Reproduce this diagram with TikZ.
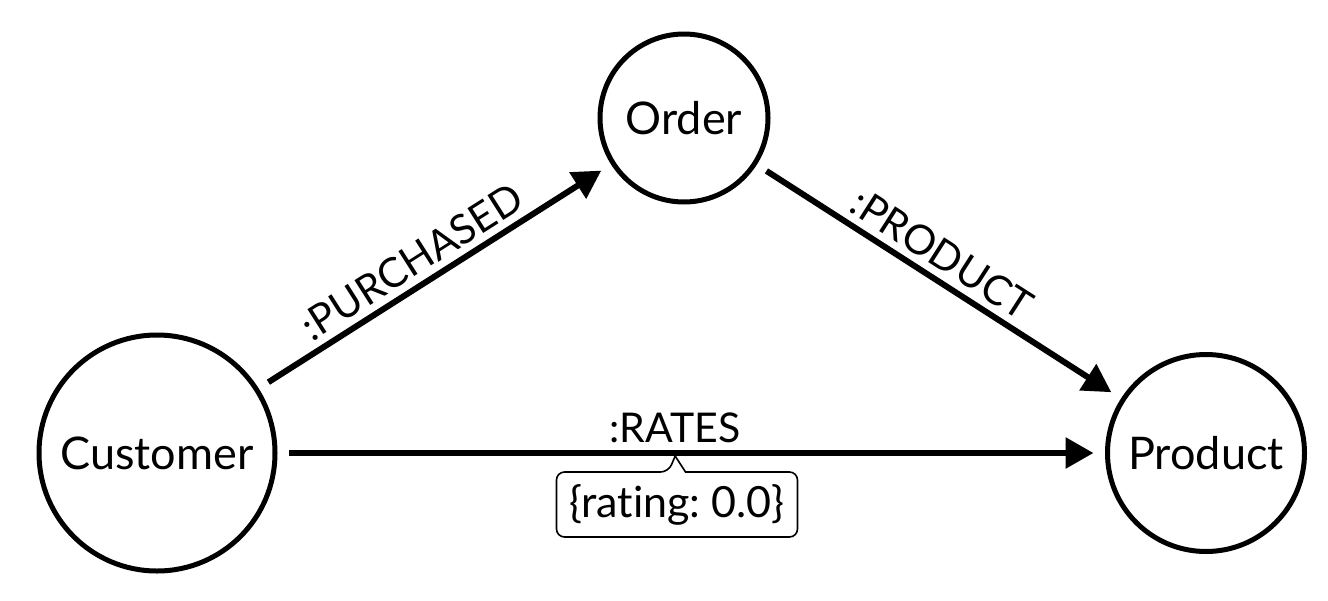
\documentclass[tikz,border=0pt]{standalone}
\usepackage{fontspec}
\setmainfont{Lato}[Ligatures=NoCommon]
\usetikzlibrary{arrows.meta}
\frenchspacing

\begin{document}
\begin{tikzpicture}
	 [x=0.5pt,y=-0.5pt,
	  every node/.style={circle,draw,line width=2.5pt,outer sep=7pt,font=\fontsize{22.5}{27}\selectfont},
	  rel/.style={line width=3pt,-{Triangle[length=14pt,width=15pt]}},
	  lbl/.style={draw=none,rectangle,outer sep=0pt,inner sep=5pt,font=\fontsize{20.5}{24}\selectfont}]

	  \useasboundingbox (0,0) rectangle (1328,600);

	  \node[minimum size=118pt] (cust) at (157,453) {Customer};
	  \node[minimum size=84pt] (ord) at (684,118) {Order};
	  \node[minimum size=98.5pt] (prod) at (1206,453) {Product};

	\foreach \from/\to/\lab in {cust/ord/{:PURCHASED},ord/prod/{:PRODUCT}}
    \draw[rel] (\from) -- node[lbl,above,sloped,pos=.47] {\lab} (\to);

	\draw[rel] (cust) -- node[lbl,above,pos=.48] (rates) {:RATES} coordinate[pos=.48] (rtip) (prod);

	  \node[lbl,minimum width=120.5pt,minimum height=32.5pt,inner sep=2pt,font=\fontsize{21.5}{25}\selectfont] (rtbox) at (677,504.5) {\{rating: 0.0\}};
	\draw[line width=0.8pt,rounded corners=4pt] ([xshift=-4.25pt]rtbox.north) [sharp corners] -- ([yshift=-1.5pt]rtip) -- ([xshift=4.25pt]rtbox.north) [rounded corners=4pt] -- (rtbox.north east) -- (rtbox.south east) -- (rtbox.south west) -- (rtbox.north west) -- cycle;

\end{tikzpicture}
\end{document}
